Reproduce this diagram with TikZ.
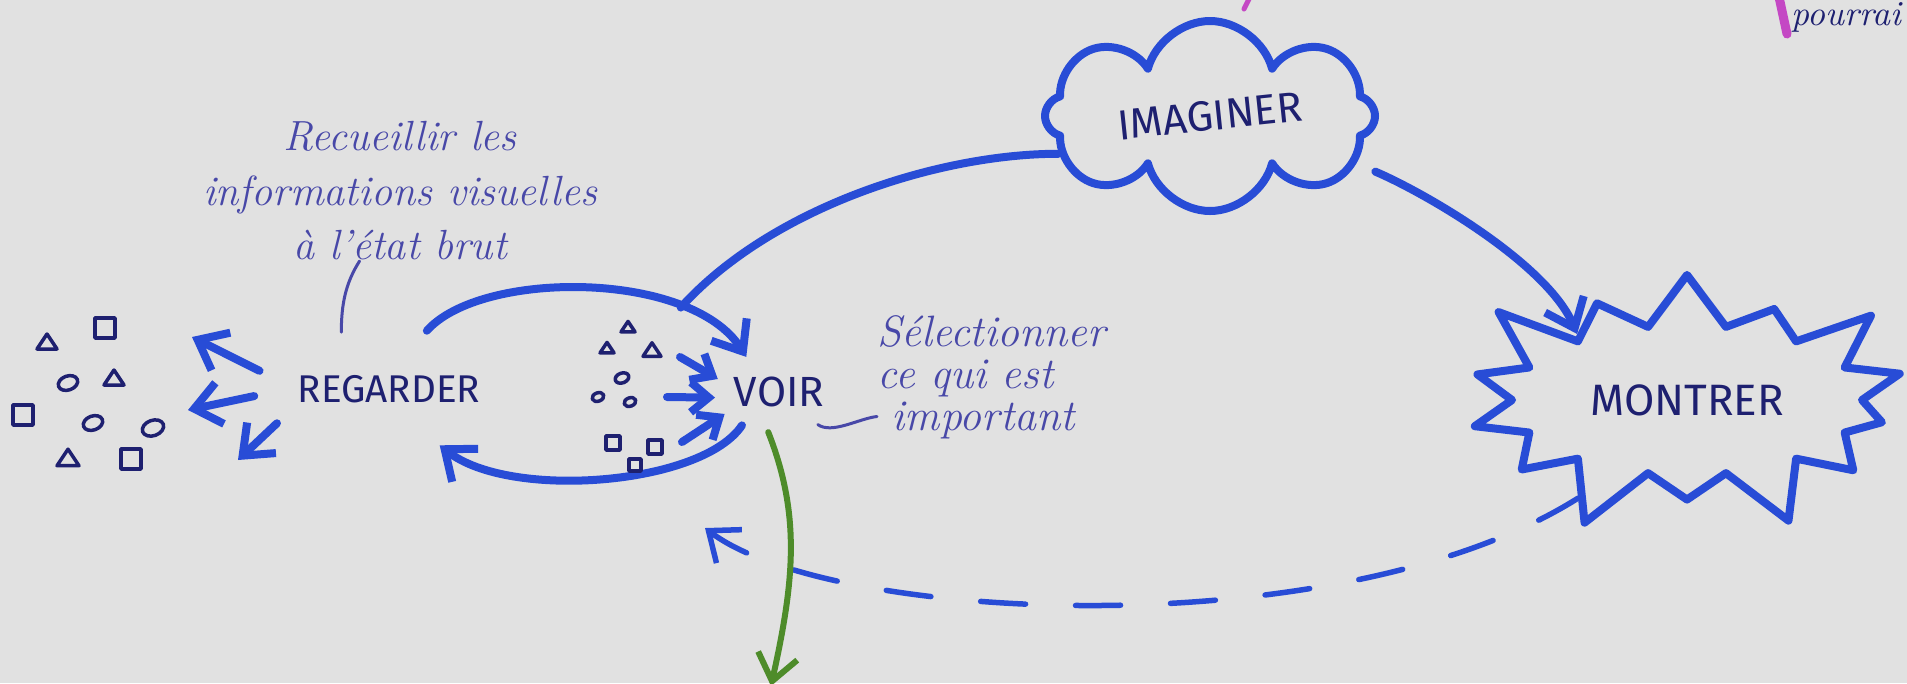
\documentclass[tikz,border=0pt]{standalone}
\usepackage{fontspec}
\usepackage{xcolor}
\usepackage{graphicx}
\usepackage{tikz}
\usetikzlibrary{shapes.geometric, shapes.symbols, arrows.meta, positioning}
\newfontfamily\handcaps{Fira Sans}
\definecolor{SketchPaper}{RGB}{225, 225, 225}
\definecolor{SketchBlue}{RGB}{40, 76, 214}
\definecolor{SketchInk}{RGB}{30, 32, 112}
\definecolor{SketchPen}{RGB}{72, 72, 168}
\definecolor{SketchGreen}{RGB}{78, 140, 42}
\definecolor{SketchPink}{RGB}{196, 72, 196}
\tikzset{
  crayon/.style={draw=SketchBlue, line width=0.8mm, line cap=round, line join=round},
  crayontip/.style={crayon, -{Straight Barb[length=2.6mm, width=4.2mm]}},
  smalltip/.style={crayon, -{Straight Barb[length=1.8mm, width=3mm]}},
  penline/.style={draw=SketchPen, line width=0.3mm, line cap=round},
  glyph/.style={draw=SketchInk, line width=0.35mm, line join=round},
  keyword/.style={font=\handcaps\fontsize{11}{13}\selectfont, text=SketchInk, inner sep=0pt},
  note/.style={font=\itshape\fontsize{12}{15.5}\selectfont, text=SketchPen, inner sep=0pt}
}

\begin{document}
\begin{tikzpicture}[x=0.1mm, y=-0.1mm]
  \fill[SketchPaper] (0,0) rectangle (1907,683);
  \useasboundingbox (0,0) rectangle (1907,683);

  % the four steps
  \node[keyword, ellipse, minimum width=27mm, minimum height=12mm] (regarder) at (389,389) {REGARDER};
  \node[keyword, ellipse, minimum width=12mm, minimum height=8mm, font=\handcaps\fontsize{12}{14}\selectfont] (voir) at (779,392) {VOIR};
  \node[keyword, cloud, crayon, cloud puffs=8, cloud ignores aspect, minimum width=33mm, minimum height=19mm,
        font=\handcaps\fontsize{12}{14}\selectfont] (imaginer) at (1210,116) {\rotatebox{6}{IMAGINER}};
  \node[keyword, starburst, crayon, starburst points=14, starburst point height=7mm, minimum width=49mm, minimum height=29mm,
        font=\handcaps\fontsize{12.5}{14}\selectfont] (montrer) at (1687,400) {MONTRER};

  % notes
  \node[note, align=center] (recueillir) at (400,191) {Recueillir les\\informations visuelles\\à l'état brut};
  \node[note, align=left, anchor=west, font=\itshape\fontsize{12.5}{12}\selectfont] (selection) at (877,377)
    {Sélectionner\\ce qui est\\\hspace*{4pt}important};
  \node[note, anchor=base west, text=SketchInk, font=\itshape\fontsize{10}{12}\selectfont] (pourrai) at (1791,25) {pourrai};
  \draw[draw=SketchPink, line width=0.9mm, line cap=round] (1779,-3) -- (1787,34);
  \draw[draw=SketchPink, line width=0.5mm, line cap=round] (1244,9) -- (1250,-3);

  % free ends
  \coordinate (scatter1) at (192,337);
  \coordinate (scatter2) at (188,410);
  \coordinate (scatter3) at (238,460);
  \coordinate (gather1) at (680,357);
  \coordinate (gather2) at (667,397);
  \coordinate (gather3) at (682,442);
  \coordinate (back) at (705,528);
  \coordinate (greenend) at (771,686);

  % loop between regarder and voir
  \draw[crayontip] (regarder.57) .. controls +(54,-61) and +(-55,-87) .. (voir.133) coordinate[pos=0.75] (looptop);
  \draw[crayontip] (voir.222) .. controls +(-40,60) and +(70,55) .. (regarder.-48);
  \draw[crayon] (imaginer.194) .. controls +(-120,0) and +(90,-100) .. (looptop);
  \draw[crayontip, shorten <=2mm] (imaginer.-18) .. controls +(70,30) and +(-30,-70) .. (montrer.149);
  \draw[crayontip, line width=0.55mm, dash pattern=on 4.5mm off 5mm] (montrer.222) .. controls +(-238,150) and +(125,95) .. (back);
  \draw[draw=SketchGreen, line width=0.6mm, line cap=round, -{Straight Barb[length=2.6mm, width=4mm]}]
    (voir.255) .. controls +(33,84) and +(23,-104) .. (greenend);

  \draw[crayontip] (regarder.172) -- (scatter1);
  \draw[crayontip] (regarder.183) -- (scatter2);
  \draw[crayontip] (regarder.197) -- (scatter3);
  \draw[smalltip] (gather1) -- (voir.168);
  \draw[smalltip] (gather2) -- (voir.185);
  \draw[smalltip] (gather3) -- (voir.202);

  \draw[penline] (recueillir.240) .. controls +(-14,22) and +(0,-28) .. (regarder.130);
  \draw[penline] (voir.-40) .. controls +(14,10) and +(-18,2) .. (selection.199);

  % scattered glyphs
  \foreach \x/\y/\s in {47/342/10, 114/378/10, 68/458/11, 628/327/7, 607/348/7, 652/350/9}
    \draw[glyph] (\x-\s,\y+0.7*\s) -- (\x+\s,\y+0.7*\s) -- (\x,\y-0.8*\s) -- cycle;
  \foreach \x/\y/\s in {105/328/10, 23/415/10, 131/459/10, 613/443/7, 655/447/7, 635/465/6}
    \draw[glyph] (\x-\s,\y-\s) rectangle (\x+\s,\y+\s);
  \foreach \x/\y/\r in {68/383/10, 93/423/10, 153/428/11, 622/378/7, 598/397/6, 630/402/6}
    \draw[glyph, rotate around={20:(\x,\y)}] (\x,\y) ellipse [x radius=\r, y radius=0.7*\r];
\end{tikzpicture}
\end{document}
